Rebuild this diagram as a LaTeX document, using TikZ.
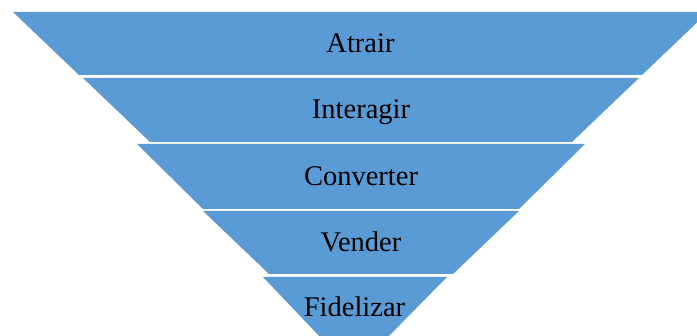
\documentclass[tikz,border=0pt]{standalone}
\usepackage{fontspec}
\setmainfont{Liberation Serif}
\definecolor{funnelblue}{HTML}{5B9BD5}
\tikzset{
  band/.style={fill=funnelblue, draw=none},
  label/.style={anchor=base, inner sep=0pt, font=\fontsize{28.5}{30}\selectfont, text=black}
}
\begin{document}
\begin{tikzpicture}[x=1pt, y=-1pt]
\useasboundingbox (0,0) rectangle (697,336);
\clip (0,0) rectangle (697,336);
\fill[white] (0,0) rectangle (697,336);
% bands
\path[band] (13,12) -- (708,12) -- (642,75) -- (79,75) -- cycle;
\path[band] (83,78) -- (639,78) -- (572,142) -- (150,142) -- cycle;
\path[band] (137,144) -- (585,144) -- (519,209) -- (203,209) -- cycle;
\path[band] (203,211) -- (519,211) -- (453,274) -- (269,274) -- cycle;
\path[band] (263,277) -- (447,277) -- (385,340) -- (323,340) -- cycle;
% labels
\node[label] (atrair) at (360.5,53) {Atrair};
\node[label] (interagir) at (361,119) {Interagir};
\node[label] (converter) at (361,186) {Converter};
\node[label] (vender) at (361,252) {Vender};
\node[label] (fidelizar) at (354.5,317) {Fidelizar};
\end{tikzpicture}
\end{document}
